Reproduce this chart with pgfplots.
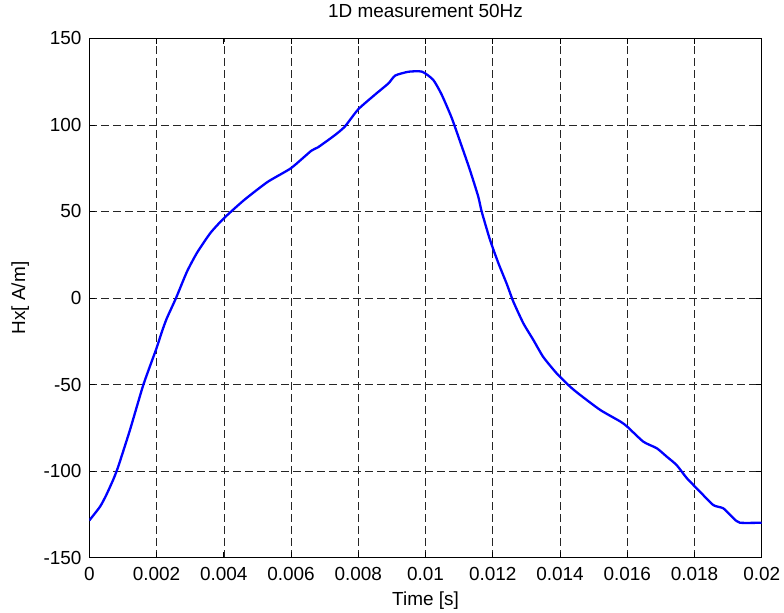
\documentclass[border=0pt]{standalone}
\usepackage{fontspec}
\setmainfont{Liberation Sans}
\usepackage{pgfplots}
\pgfplotsset{compat=1.18}
\begin{document}
\fontsize{19}{22}\selectfont
\begin{tikzpicture}
\begin{axis}[
  at={(0,0)}, anchor=south west,
  scale only axis,
  width=672.4bp, height=519.4bp,
  xmin=0, xmax=0.02, ymin=-150, ymax=150,
  xtick={0,0.002,0.004,0.006,0.008,0.01,0.012,0.014,0.016,0.018,0.02},
  xticklabels={0,0.002,0.004,0.006,0.008,0.01,0.012,0.014,0.016,0.018,0.02},
  scaled x ticks=false,
  ytick={-150,-100,-50,0,50,100,150},
  yticklabels={-150,-100,-50,0,50,100,150},
  /pgf/number format/assume math mode=true,
  tick align=inside,
  major tick length=6bp,
  tick style={black, line width=0.6bp},
  axis line style={black, line width=0.9bp},
  grid=major,
  major grid style={black!85, line width=0.5bp, dash pattern=on 8bp off 4bp},
  xticklabel style={anchor=base, inner sep=0pt, yshift=-23bp},
  yticklabel style={anchor=east, inner sep=0pt, xshift=-7.6bp},
  title={1D measurement 50Hz},
  title style={at={(axis description cs:0.5,1.0289)}, anchor=base, inner sep=0pt},
  xlabel={Time [s]},
  xlabel style={at={(axis description cs:0.5,-0.0911)}, anchor=base, inner sep=0pt},
  ylabel={Hx[ A/m]},
  ylabel style={at={(axis description cs:-0.0956,0.5)}, anchor=base, rotate=0, inner sep=0pt},
]
\addplot[color={rgb,255:red,0;green,0;blue,255}, line width=2.3bp, line join=round, smooth, tension=0.35] coordinates {
(0,-128.5)
(0.00032,-120.5)
(0.0005,-114)
(0.00071,-105)
(0.00086,-97.4)
(0.00121,-76.2)
(0.00161,-50)
(0.0020,-29)
(0.00215,-20)
(0.0023,-12)
(0.00258,0)
(0.0029,15)
(0.0032,26)
(0.0036,37.5)
(0.0040,46)
(0.0046,56.5)
(0.0053,67)
(0.0060,75)
(0.0066,85)
(0.0068,87)
(0.0073,94)
(0.0076,99)
(0.0080,109)
(0.0085,117.5)
(0.0089,124)
(0.0091,128.5)
(0.0095,130.7)
(0.0099,130.7)
(0.01023,126)
(0.01048,117.5)
(0.01078,104)
(0.01108,87.5)
(0.01132,74)
(0.01157,58.5)
(0.01167,50)
(0.01192,33.5)
(0.01217,20)
(0.01242,8)
(0.01261,-2)
(0.01291,-14.6)
(0.01321,-24.3)
(0.0135,-34)
(0.0139,-43.5)
(0.0143,-51.2)
(0.0146,-56)
(0.0152,-64.7)
(0.0158,-71.4)
(0.0160,-74.3)
(0.01648,-83)
(0.01688,-86.8)
(0.01718,-91.7)
(0.01747,-96.5)
(0.01777,-104)
(0.01817,-112)
(0.01856,-119.6)
(0.01886,-121.5)
(0.01916,-127.2)
(0.01935,-129.8)
(0.02,-129.8)
};
\end{axis}
\pgfresetboundingbox
\useasboundingbox (-89.3bp,-55.3bp) rectangle (694.7bp,557.7bp);
\end{tikzpicture}
\end{document}
